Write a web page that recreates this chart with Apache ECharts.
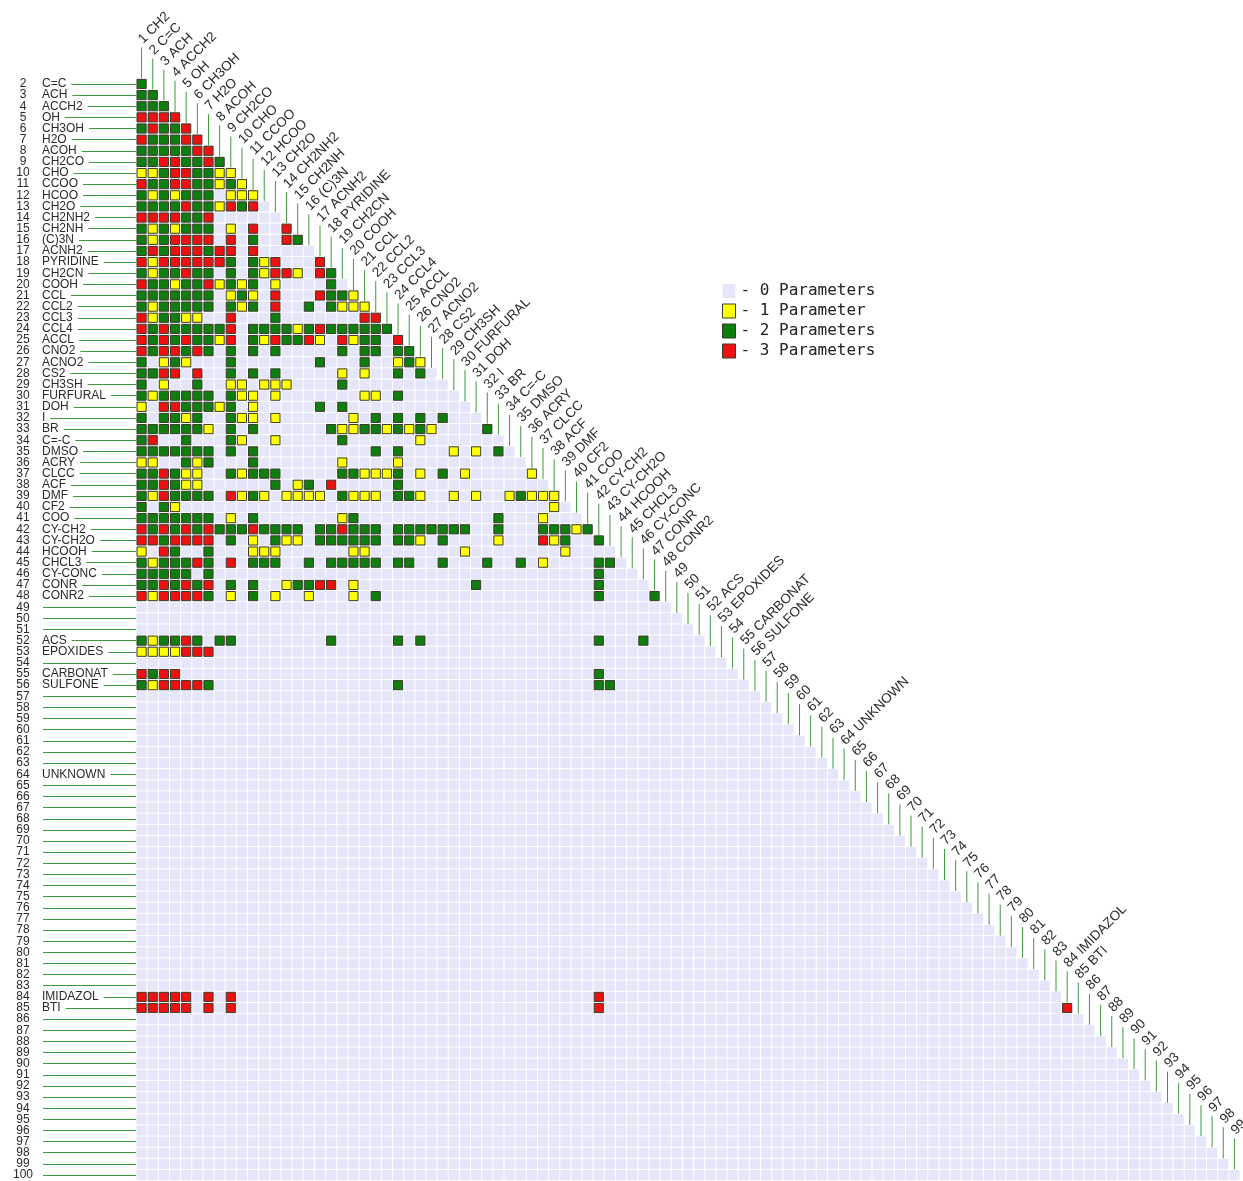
<!DOCTYPE html>
<html>
<head>
<meta charset="utf-8">
<script src="https://cdn.jsdelivr.net/npm/echarts@6/dist/echarts.min.js"></script>
<style>
html,body{margin:0;padding:0;background:#ffffff;}
#chart{width:1243px;height:1181px;}
</style>
</head>
<body>
<div id="chart"></div>
<script>
// ---------- DATA ----------
// Group names for groups 1..48
const mainGroupNames = ['CH2','C=C','ACH','ACCH2','OH','CH3OH','H2O','ACOH','CH2CO','CHO',
  'CCOO','HCOO','CH2O','CH2NH2','CH2NH','(C)3N','ACNH2','PYRIDINE','CH2CN','COOH',
  'CCL','CCL2','CCL3','CCL4','ACCL','CNO2','ACNO2','CS2','CH3SH','FURFURAL',
  'DOH','I','BR','C=-C','DMSO','ACRY','CLCC','ACF','DMF','CF2',
  'COO','CY-CH2','CY-CH2O','HCOOH','CHCL3','CY-CONC','CONR','CONR2'];
// Named groups beyond 48
const extraGroupIds = [52, 53, 55, 56, 64, 84, 85];
const extraGroupNames = ['ACS','EPOXIDES','CARBONAT','SULFONE','UNKNOWN','IMIDAZOL','BTI'];
const groupCount = 100;

// Number of parameters per row (row group id), one digit per column group 1,2,3,... (0 = none)
const paramRowIds = [2,3,4,5,6,7,8,9,10,11,12,13,14,15,16,17,18,19,20,21,22,23,24,25,26,27,28,29,30,
  31,32,33,34,35,36,37,38,39,40,41,42,43,44,45,46,47,48,52,53,55,56,84,85];
const paramRowCodes = [
  '2',
  '22',
  '222',
  '3333',
  '23223',
  '32223 3',
  '22222 33',
  '22332 232',
  '11233 2211',
  '32233 22121',
  '21212 22011 1',
  '22223 22132 3',
  '33332 23',
  '21212 22010 3003',
  '21233 33030 20032',
  '23233 32330 3',
  '31333 33320 21300 03',
  '21223 22020 21331 032',
  '32212 23121 20100 002',
  '22222 22012 10300 03221',
  '21222 22021 20300 20211 1',
  '31221 10030 00200 00000 33',
  '32322 22230 22221 23222 222',
  '32323 22130 21322 31031 2203',
  '32332 32020 20200 00020 22022',
  '20121 00020 00000 02000 20012 1',
  '22330 30020 20200 00010 10020 2',
  '20100 20011 01110 0002',
  '21222 22021 10100 00000 1102',
  '10332 22120 10000 0202',
  '20221 20021 10100 00001 02020 202',
  '22222 21020 20000 00211 22121 21000 02',
  '23002 00021 00100 00020 00000 1',
  '22222 22020 20000 00000 02020 00010 102',
  '11002 12000 20000 00010 0001',
  '22321 10021 22200 00022 11120 10201 00000 1',
  '22321 10000 00201 20300 0002',
  '21322 22031 21011 11021 11022 10010 10012 111',
  '20210 00000 00000 00000 00000 00000 00000 001',
  '22222 22010 20000 00012 00000 00000 00200 01',
  '32323 23222 32222 02232 22022 22222 00200 02221 2',
  '33233 33020 10211 02222 22022 10200 00100 03120 02',
  '10320 02000 11100 00001 10000 00001 00000 0001',
  '21222 32030 22200 20222 22022 00200 02002 01000 022',
  '22222 02000 00000 00000 00000 00000 00000 00000 02',
  '22323 23020 20012 23301 00000 00000 20000 00000 02',
  '31333 32010 20100 10001 02000 00000 00000 00000 02000 02',
  '21223 20220 00000 00200 00020 20000 00000 00000 02000 2',
  '11113 33',
  '32330 00000 00000 00000 00000 00000 00000 00000 02',
  '21333 32000 00000 00000 00020 00000 00000 00000 022',
  '33333 03030 00000 00000 00000 00000 00000 00000 03',
  '33333 03030 00000 00000 00000 00000 00000 00000 03000 00000 00000 00000 00000 00000 00000 00000 0003'
];
const legendLabels = ['- 0 Parameters', '- 1 Parameter', '- 2 Parameters', '- 3 Parameters'];
const cellColors = ['#E6E6FA', '#FFFF00', '#0E7E0E', '#EE1111'];

// ---------- BUILD ----------
const groupNames = [];
for (let g = 1; g <= groupCount; g++) {
  let n = '';
  if (g <= mainGroupNames.length) n = mainGroupNames[g - 1];
  const k = extraGroupIds.indexOf(g);
  if (k >= 0) n = extraGroupNames[k];
  groupNames.push(n);
}
const xCats = [];
for (let c = 1; c < groupCount; c++) xCats.push(String(c));
const yCats = [];
for (let r = 2; r <= groupCount; r++) yCats.push(String(r));

const cells = [[], [], [], []];
for (let r = 2; r <= groupCount; r++) {
  for (let c = 1; c < r; c++) cells[0].push([c - 1, r - 2]);
}
paramRowIds.forEach(function (r, i) {
  const s = paramRowCodes[i].replace(/\s+/g, '');
  for (let k = 0; k < s.length && k < r - 1; k++) {
    const v = +s[k];
    if (v > 0) cells[v].push([k, r - 2]);
  }
});

const labelFont = '11.5px "Liberation Sans", Arial, sans-serif';
const topFont = '13.5px "Liberation Sans", Arial, sans-serif';
const lineGreen = '#3f9a3f';

function bgCell(params, api) {
  const p = api.coord([api.value(0), api.value(1)]);
  const s = api.size([1, 1]);
  return {
    type: 'rect',
    shape: { x: p[0] - s[0] / 2 + 0.5, y: p[1] - s[1] / 2 + 0.5, width: s[0] - 1, height: s[1] - 1 },
    style: { fill: cellColors[0] },
    silent: true
  };
}
function paramCell(v) {
  return function (params, api) {
    const p = api.coord([api.value(0), api.value(1)]);
    const s = api.size([1, 1]);
    return {
      type: 'rect',
      shape: { x: p[0] - s[0] / 2 + 1, y: p[1] - s[1] / 2 + 1, width: s[0] - 2, height: s[1] - 2 },
      style: { fill: cellColors[v], stroke: '#3a3a2a', lineWidth: 1 }
    };
  };
}
function topLabel(params, api) {
  const i = api.value(0);
  const p = api.coord([i, i]);
  const s = api.size([1, 1]);
  const top = p[1] - s[1] / 2;
  const x = p[0];
  const name = groupNames[i];
  return {
    type: 'group',
    children: [
      { type: 'line', shape: { x1: x, y1: top - 31, x2: x, y2: top }, style: { stroke: lineGreen, lineWidth: 1 } },
      { type: 'text', x: x - 1, y: top - 37, rotation: Math.PI / 4,
        style: { text: (i + 1) + (name ? ' ' + name : ''), font: topFont, fill: '#2a2a2a', align: 'left', verticalAlign: 'middle' } }
    ]
  };
}

const series = [];
series.push({ name: legendLabels[0], type: 'custom', renderItem: bgCell, data: cells[0], animation: false, silent: true,
  itemStyle: { color: cellColors[0] }, z: 1 });
for (let v = 1; v <= 3; v++) {
  series.push({ name: legendLabels[v], type: 'custom', renderItem: paramCell(v), data: cells[v], animation: false,
    itemStyle: { color: cellColors[v], borderColor: '#3a3a2a', borderWidth: 1 }, z: 2 });
}
series.push({ type: 'custom', renderItem: topLabel, data: xCats.map(function (c, i) { return [i, i]; }),
  clip: false, animation: false, silent: true, z: 3 });

const chart = echarts.init(document.getElementById('chart'), null, { renderer: 'canvas' });
chart.setOption({
  animation: false,
  backgroundColor: '#ffffff',
  grid: { left: 136, top: 78.4, width: 1104, height: 1104, containLabel: false },
  xAxis: { type: 'category', data: xCats, show: false },
  yAxis: {
    type: 'category', data: yCats, inverse: true,
    axisLine: { show: false },
    splitLine: { show: false },
    axisTick: { show: true, alignWithLabel: true, interval: 0, length: 100, lineStyle: { color: lineGreen, width: 1 } },
    axisLabel: {
      interval: 0, margin: 124, align: 'left',
      formatter: function (val) {
        const nm = groupNames[+val - 1];
        return '{n|' + val + '}' + (nm ? '{t|' + nm + '}' : '{e| }');
      },
      rich: {
        n: { width: 22, align: 'right', font: labelFont, color: '#2a2a2a', backgroundColor: '#ffffff', lineHeight: 11 },
        t: { font: labelFont, color: '#2a2a2a', backgroundColor: '#ffffff', padding: [0, 5, 0, 8], lineHeight: 11 },
        e: { width: 9, font: labelFont, backgroundColor: '#ffffff', lineHeight: 11 }
      }
    }
  },
  legend: {
    orient: 'vertical', left: 722, top: 283, padding: 0, itemWidth: 13, itemHeight: 14, itemGap: 4,
    selectedMode: false,
    textStyle: { fontFamily: '"DejaVu Sans Mono", monospace', fontSize: 16, color: '#222222' },
    data: [
      { name: legendLabels[0], icon: 'rect', itemStyle: { color: cellColors[0], borderWidth: 0 } },
      { name: legendLabels[1], icon: 'rect', itemStyle: { color: cellColors[1], borderColor: '#3a3a2a', borderWidth: 1 } },
      { name: legendLabels[2], icon: 'rect', itemStyle: { color: cellColors[2], borderColor: '#3a3a2a', borderWidth: 1 } },
      { name: legendLabels[3], icon: 'rect', itemStyle: { color: cellColors[3], borderColor: '#3a3a2a', borderWidth: 1 } }
    ]
  },
  series: series
});
</script>
</body>
</html>
